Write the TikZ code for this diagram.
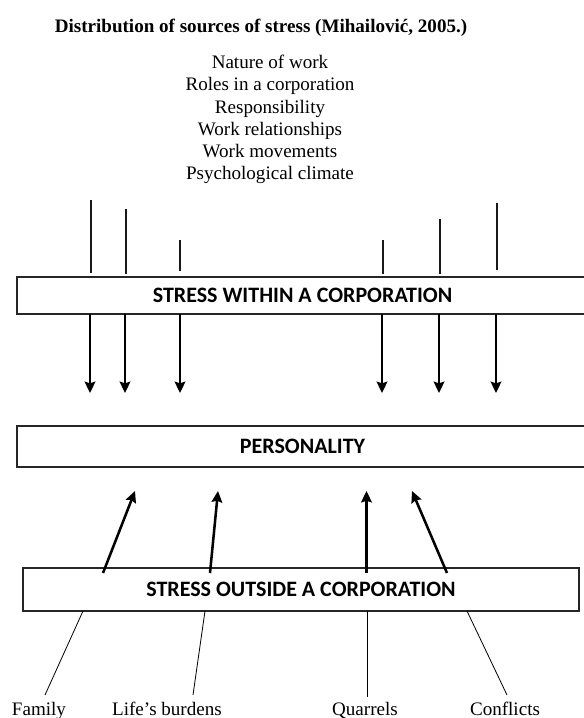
\documentclass[tikz,border=0pt]{standalone}
\usepackage{fontspec}
\setmainfont{Liberation Serif}
\newfontfamily\calib{Carlito}
\usetikzlibrary{arrows.meta}
\begin{document}
\begin{tikzpicture}[x=0.75pt,y=-0.75pt,
  boxnode/.style={draw=black!85,line width=0.9pt,inner sep=0pt,outer sep=0pt,
    font=\calib\bfseries\fontsize{16.5}{19}\selectfont},
  txt/.style={font=\fontsize{14.3}{16.6}\selectfont,inner sep=0pt},
  thinline/.style={line width=0.8pt,black!90},
  footline/.style={line width=0.6pt},
  arr/.style={line width=1.9pt,-{Stealth[length=8.5pt,width=8pt,inset=1.2pt]}},
]
\useasboundingbox (0,0) rectangle (584,718);
\clip (0,0) rectangle (584,718);

% title and list
\node[txt,font=\bfseries\fontsize{14.3}{16.6}\selectfont,anchor=base] (title) at (261,32)
  {Distribution of sources of stress (Mihailović, 2005.)};
\node[txt,align=center] (list) at (270,119.5)
  {Nature of work\\Roles in a corporation\\Responsibility\\Work relationships\\Work movements\\Psychological climate};

% boxes
\node[boxnode,minimum width=428.25pt,minimum height=27.75pt] (within) at (302.5,295.5)
  {STRESS WITHIN A CORPORATION};
\node[boxnode,minimum width=428.25pt,minimum height=30.75pt] (person) at (302.5,446.5)
  {PERSONALITY};
\node[boxnode,minimum width=417pt,minimum height=32.25pt] (outside) at (301,589.5)
  {STRESS OUTSIDE A CORPORATION};

% top free lines
\coordinate (t1a) at (91,200);  \coordinate (t1b) at (91,273);
\coordinate (t2a) at (126,209); \coordinate (t2b) at (126,274);
\coordinate (t3a) at (180,240); \coordinate (t3b) at (180,271);
\coordinate (t4a) at (383,240); \coordinate (t4b) at (383,274);
\coordinate (t5a) at (440,219); \coordinate (t5b) at (440,274);
\coordinate (t6a) at (497,203); \coordinate (t6b) at (497,270);
\foreach \i in {1,...,6} \draw[thinline] (t\i a) -- (t\i b);

% down arrows
\coordinate (d1) at (90,393);
\coordinate (d2) at (125,393);
\coordinate (d3) at (180,393);
\coordinate (d4) at (382,393);
\coordinate (d5) at (439,393);
\coordinate (d6) at (496,393);
\foreach \i in {1,...,6} \draw[arr] (within.south -| d\i) -- (d\i);

% up arrows
\coordinate (u1s) at (103,573); \coordinate (u1e) at (135,491);
\coordinate (u2s) at (210,573); \coordinate (u2e) at (218,491);
\coordinate (u3s) at (366.5,573); \coordinate (u3e) at (366.5,491);
\coordinate (u4s) at (447,573); \coordinate (u4e) at (412,491);
\foreach \i in {1,...,4} \draw[arr] (u\i s) -- (u\i e);

% bottom labels
\node[txt,anchor=base] (family) at (39,715) {Family};
\node[txt,anchor=base] (burdens) at (167,715) {Life’s burdens};
\node[txt,anchor=base] (quarrels) at (365,715) {Quarrels};
\node[txt,anchor=base] (conflicts) at (505,715) {Conflicts};

\coordinate (b1s) at (83,0);  \coordinate (b1e) at (45,695);
\coordinate (b2s) at (205,0); \coordinate (b2e) at (193,695);
\coordinate (b3s) at (367,0); \coordinate (b3e) at (367,697);
\coordinate (b4s) at (467,0); \coordinate (b4e) at (507,695);
\foreach \i in {1,...,4} \draw[footline] (outside.south -| b\i s) -- (b\i e);
\end{tikzpicture}
\end{document}
